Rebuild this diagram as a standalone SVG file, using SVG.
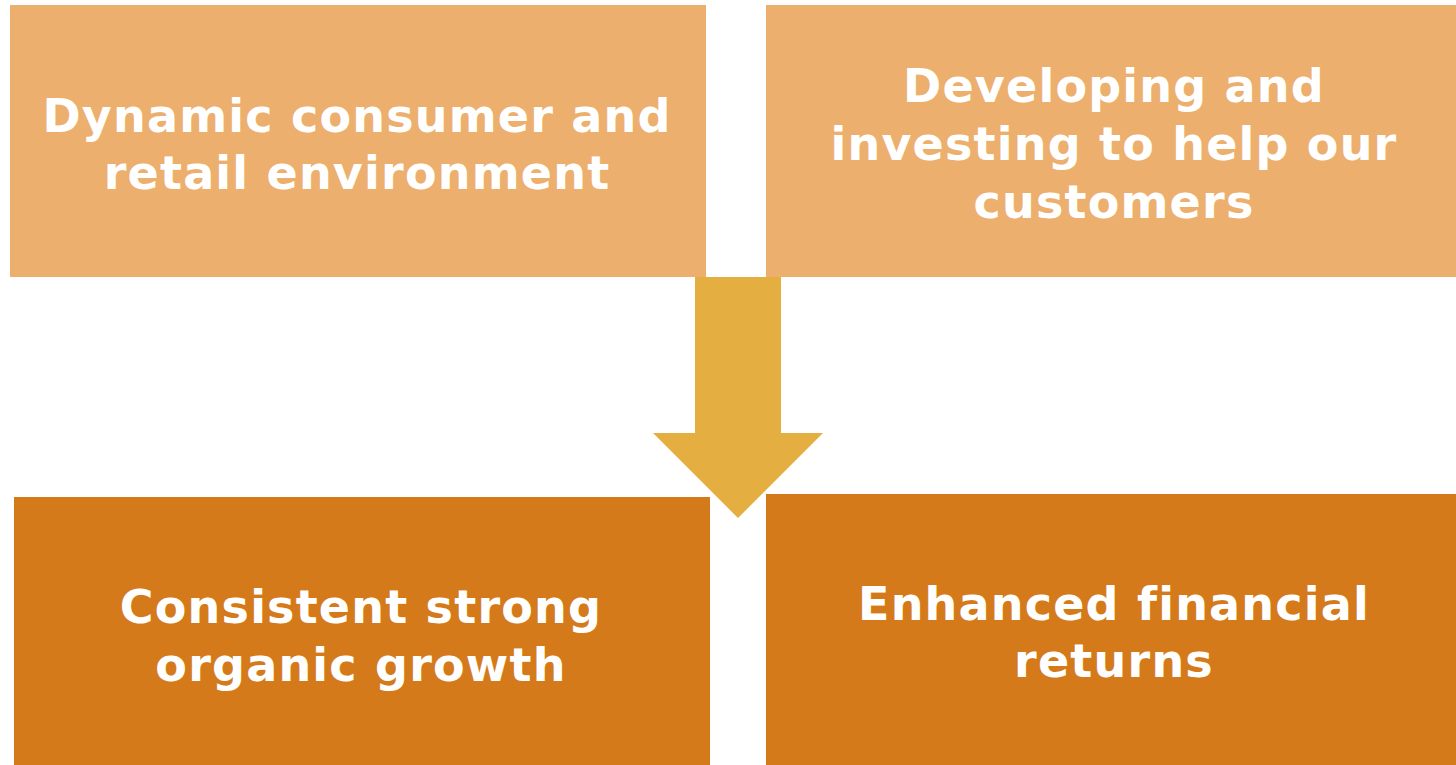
<svg xmlns="http://www.w3.org/2000/svg" width="1456" height="765" viewBox="0 0 1456 765">
  <style>
    .top { fill: #ECAF6E; }
    .bottom { fill: #D57A1A; }
    .arrow { fill: #E5AE40; }
    .label { fill: #FFFFFF; font-family: "DejaVu Sans", Verdana, sans-serif; font-weight: bold; font-size: 46px; letter-spacing: 1.2px; font-variant-ligatures: none; text-anchor: middle; }
  </style>
  <rect width="1456" height="765" fill="#FFFFFF"/>

  <g id="node-environment">
    <rect class="top" x="10" y="5" width="696" height="272"/>
    <text class="label"><tspan x="357" y="132">Dynamic consumer and</tspan><tspan x="357" y="189">retail environment</tspan></text>
  </g>

  <g id="node-investing">
    <rect class="top" x="766" y="5" width="690" height="272"/>
    <text class="label"><tspan x="1114" y="102">Developing and</tspan><tspan x="1114" y="160">investing to help our</tspan><tspan x="1114" y="218">customers</tspan></text>
  </g>

  <g id="node-growth">
    <rect class="bottom" x="14" y="497" width="696" height="268"/>
    <text class="label"><tspan x="361" y="623">Consistent strong</tspan><tspan x="361" y="681">organic growth</tspan></text>
  </g>

  <g id="node-returns">
    <rect class="bottom" x="766" y="494" width="690" height="271"/>
    <text class="label"><tspan x="1114" y="620">Enhanced financial</tspan><tspan x="1114" y="677">returns</tspan></text>
  </g>

  <g id="connectors">
    <polygon class="arrow" points="695,277 781,277 781,433 823,433 738,518 653,433 695,433"/>
  </g>
</svg>
